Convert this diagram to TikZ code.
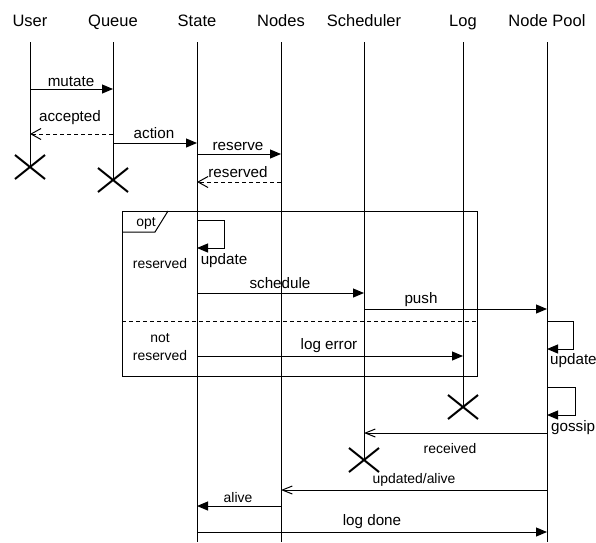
\documentclass[tikz,border=0pt]{standalone}
\usepackage{fontspec}
\setmainfont{Liberation Sans}
\usetikzlibrary{arrows.meta,shapes.misc}
\begin{document}
\begin{tikzpicture}[x=1pt,y=-1pt,
  hdr/.style={anchor=base,font=\fontsize{16.5}{18}\selectfont,inner sep=0pt},
  lbl/.style={anchor=base,font=\fontsize{15.2}{17}\selectfont,inner sep=0pt},
  slbl/.style={anchor=base,font=\fontsize{13.9}{16}\selectfont,inner sep=0pt},
  life/.style={line width=1pt},
  sync/.style={line width=1pt,-{Triangle[length=11pt,width=9pt]}},
  reply/.style={line width=1pt,dash pattern=on 4pt off 3pt,-{Straight Barb[length=10pt,width=11pt]}},
  async/.style={line width=1pt,-{Straight Barb[length=10pt,width=8pt]}},
  xmark/.style={cross out,draw,line width=2pt,inner sep=0pt,minimum width=28pt,minimum height=22pt},
  frame/.style={line width=1pt}]
\useasboundingbox (0,0) rectangle (596,542);
% headers
\node[hdr] (hU) at (30,26) {User};
\node[hdr] (hQ) at (113,26) {Queue};
\node[hdr] (hS) at (197,26) {State};
\node[hdr] (hN) at (281,26) {Nodes};
\node[hdr] (hSc) at (364,26) {Scheduler};
\node[hdr] (hL) at (463,26) {Log};
\node[hdr] (hP) at (547,26) {Node Pool};
% lifeline tops
\coordinate (lU) at (30,42);
\coordinate (lQ) at (113,42);
\coordinate (lS) at (197,42);
\coordinate (lN) at (281,42);
\coordinate (lSc) at (364,42);
\coordinate (lL) at (463,42);
\coordinate (lP) at (547,42);
% destruction marks
\node[xmark] (xU) at (30,167) {};
\node[xmark] (xQ) at (113,180) {};
\node[xmark] (xL) at (463,407) {};
\node[xmark] (xSc) at (364,460) {};
% lifelines
\draw[life] (lU) -- (xU.center);
\draw[life] (lQ) -- (xQ.center);
\draw[life] (lS) -- (lS |- 0,542);
\draw[life] (lN) -- (lN |- 0,542);
\draw[life] (lSc) -- (xSc.center);
\draw[life] (lL) -- (xL.center);
\draw[life] (lP) -- (lP |- 0,542);
% opt frame
\draw[frame] (122,211) rectangle (477,376);
\draw[frame] (122,232) -- (155,232) -- (168,211);
\node[slbl] (opt) at (146,226) {opt};
\draw[frame,dash pattern=on 4pt off 3pt] (122,321) -- (477,321);
\node[slbl] (g1) at (160,268) {reserved};
\node[slbl] (g2a) at (160,342) {not};
\node[slbl] (g2b) at (160,360) {reserved};
% messages
\draw[sync] (lU |- 0,89) -- (lQ |- 0,89);
\node[lbl] (mMutate) at (71,86) {mutate};
\draw[reply] (lQ |- 0,134) -- (lU |- 0,134);
\node[lbl] (mAcc) at (70,121) {accepted};
\draw[sync] (lQ |- 0,143) -- (lS |- 0,143);
\node[lbl] (mAction) at (154,138) {action};
\draw[sync] (lS |- 0,154) -- (lN |- 0,154);
\node[lbl] (mReserve) at (238,150) {reserve};
\draw[reply] (lN |- 0,182) -- (lS |- 0,182);
\node[lbl] (mReserved) at (238,177) {reserved};
\draw[sync] (lS |- 0,220) -- ++(27,0) |- (lS |- 0,248);
\node[lbl] (mUpd1) at (224,264) {update};
\draw[sync] (lS |- 0,293) -- (lSc |- 0,293);
\node[lbl] (mSched) at (280,288) {schedule};
\draw[sync] (lSc |- 0,309) -- (lP |- 0,309);
\node[lbl] (mPush) at (421,303) {push};
\draw[sync] (lS |- 0,356) -- (lL |- 0,356);
\node[lbl] (mLogErr) at (329,349) {log error};
\draw[sync] (lP |- 0,321) -- ++(26,0) |- (lP |- 0,349);
\node[lbl,anchor=base west] (mUpd2) at (550,364) {update};
\draw[sync] (lP |- 0,387) -- ++(28,0) |- (lP |- 0,415);
\node[lbl,anchor=base west] (mGossip) at (551,431) {gossip};
\draw[async] (lP |- 0,433) -- (lSc |- 0,433);
\node[slbl] (mRecv) at (450,453) {received};
\draw[async] (lP |- 0,490) -- (lN |- 0,490);
\node[slbl] (mUA) at (414,483) {updated/alive};
\draw[sync] (lN |- 0,506) -- (lS |- 0,506);
\node[slbl] (mAlive) at (238,502) {alive};
\draw[sync] (lS |- 0,532) -- (lP |- 0,532);
\node[lbl] (mDone) at (372,525) {log done};
\end{tikzpicture}
\end{document}
